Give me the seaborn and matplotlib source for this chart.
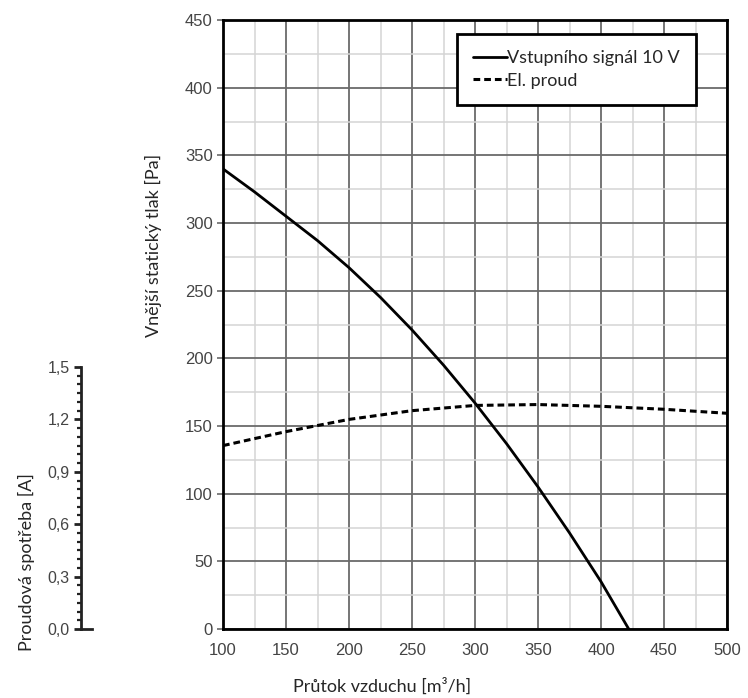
import numpy as np
import pandas as pd
import matplotlib
matplotlib.use('Agg')
import matplotlib.pyplot as plt
import seaborn as sns
from matplotlib.ticker import MultipleLocator, FuncFormatter
from matplotlib.lines import Line2D

# values
flow_pressure = [100, 125, 150, 175, 200, 225, 250, 275, 300, 325, 350, 375, 400, 422]
pressure_pa = [340, 323, 305, 287, 267, 245, 221, 195, 167, 137, 105, 71, 35, 0]

flow_current = [100, 150, 200, 250, 300, 350, 400, 450, 500]
current_a = [1.05, 1.13, 1.20, 1.25, 1.28, 1.285, 1.275, 1.258, 1.235]

x_ticks = [100, 150, 200, 250, 300, 350, 400, 450, 500]
y_ticks = [0, 50, 100, 150, 200, 250, 300, 350, 400, 450]
amp_ticks = [0.0, 0.3, 0.6, 0.9, 1.2, 1.5]

legend_labels = ['Vstupního signál 10 V', 'El. proud']
xlabel = 'Průtok vzduchu [m³/h]'
ylabel = 'Vnější statický tlak [Pa]'
amp_label = 'Proudová spotřeba [A]'

df_p = pd.DataFrame({'flow': flow_pressure, 'pressure': pressure_pa})
df_c = pd.DataFrame({'flow': flow_current, 'current': current_a})

sns.set_style('white')
plt.rcParams['font.family'] = ['Liberation Sans', 'DejaVu Sans']

W, H = 748, 698
fig = plt.figure(figsize=(W / 100, H / 100), dpi=100)

# main axes (pixel box 223..727 x 20..629)
x0, x1, yt, yb = 223, 727, 20, 629
ax = fig.add_axes([x0 / W, 1 - yb / H, (x1 - x0) / W, (yb - yt) / H])

sns.lineplot(data=df_p, x='flow', y='pressure', ax=ax, color='black', linewidth=2)

ax.set_xlim(100, 500)
ax.set_ylim(0, 450)
ax.set_xticks(x_ticks)
ax.set_yticks(y_ticks)
ax.xaxis.set_minor_locator(MultipleLocator(25))
ax.yaxis.set_minor_locator(MultipleLocator(25))
ax.grid(which='major', color='#6a6a6a', linewidth=1.3)
ax.grid(which='minor', color='#d4d4d4', linewidth=1.1)
ax.set_axisbelow(True)
ax.tick_params(axis='x', which='both', length=0, pad=10, labelsize=12, labelcolor='#444444')
ax.tick_params(axis='y', which='major', left=True, length=4.5, width=1.2, color='#6a6a6a',
               pad=3, labelsize=12, labelcolor='#444444')
ax.tick_params(axis='y', which='minor', length=0)
for s in ax.spines.values():
    s.set_visible(True)
    s.set_color('black')
    s.set_linewidth(2)
ax.set_xlabel('')
ax.set_ylabel('')

# current on a twin scale, aligned with the left amp axis
amp_top_px = 367
ax_c = ax.twinx()
sns.lineplot(data=df_c, x='flow', y='current', ax=ax_c, color='black', linewidth=2.2,
             linestyle=(0, (2.2, 1.3)))
ax_c.set_ylim(0, 1.5 * (yb - yt) / (yb - amp_top_px))
ax_c.set_yticks([])
ax_c.set_ylabel('')
for s in ax_c.spines.values():
    s.set_visible(False)

handles = [Line2D([], [], color='black', linewidth=2),
           Line2D([], [], color='black', linewidth=2.2, linestyle=(0, (2.2, 1.3)))]
leg = ax_c.legend(handles, legend_labels, loc='upper left', bbox_to_anchor=(0.464, 0.977),
                  borderaxespad=0, fancybox=False, framealpha=1, edgecolor='black',
                  handlelength=1.9, handletextpad=0.0, borderpad=0.9, labelspacing=0.35,
                  prop={'family': 'Lato', 'size': 13})
leg.get_frame().set_linewidth(2)

# left amp axis
sx = 81
ax2 = fig.add_axes([sx / W, 1 - yb / H, 11 / W, (yb - amp_top_px) / H])
ax2.set_facecolor('none')
ax2.set_ylim(0, 1.5)
ax2.set_yticks(amp_ticks)
ax2.yaxis.set_minor_locator(MultipleLocator(0.05))
ax2.yaxis.set_major_formatter(FuncFormatter(lambda v, p: f'{v:.1f}'.replace('.', ',')))
ax2.set_xticks([])
for name, s in ax2.spines.items():
    s.set_visible(name in ('left', 'bottom'))
    s.set_color('#222222')
    s.set_linewidth(2)
ax2.tick_params(axis='y', which='major', left=True, length=5, width=2, color='#222222', pad=3,
                labelsize=11.5, labelcolor='#444444')
ax2.tick_params(axis='y', which='minor', left=True, length=3, width=1.6, color='#222222')

fig.text(153 / W, 1 - 245 / H, ylabel, rotation=90, ha='center', va='center',
         family='Lato', fontsize=13)
fig.text(26 / W, 1 - 562 / H, amp_label, rotation=90, ha='center', va='center',
         family='Lato', fontsize=13)
fig.text(382 / W, 1 - 686 / H, xlabel, ha='center', va='center',
         family='Lato', fontsize=13)

fig.savefig('out.png', dpi=100)
